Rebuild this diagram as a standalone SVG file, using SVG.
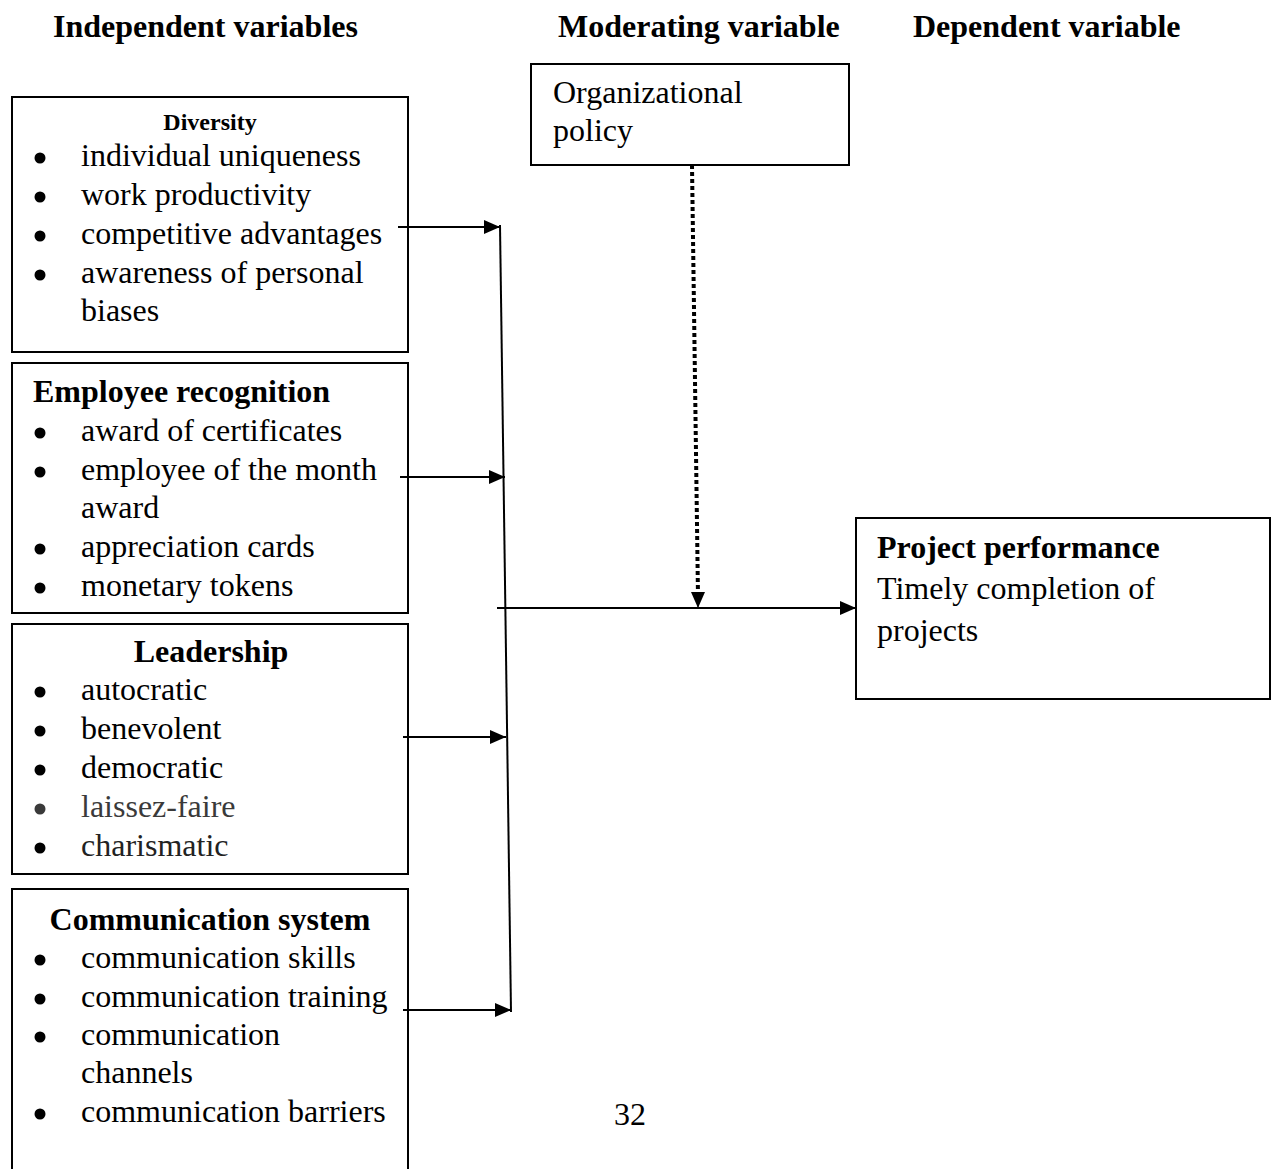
<svg xmlns="http://www.w3.org/2000/svg" width="1274" height="1169" viewBox="0 0 1274 1169">
<style>
text{font-family:"Liberation Serif","Times New Roman",serif;font-size:32px;fill:#000}
.b{font-weight:bold}
.t{font-weight:bold;font-size:24px}
.box{fill:#fff;stroke:#000;stroke-width:2}
.con{fill:none;stroke:#000;stroke-width:2}
.dot{fill:none;stroke:#000;stroke-width:4;stroke-dasharray:4 3}
.bul{fill:#000}
.g{fill:#3a3a3a}
</style>
<defs>
<marker id="ah" markerUnits="userSpaceOnUse" markerWidth="17" markerHeight="14" refX="16" refY="7" orient="auto">
<path d="M0,0 L16,7 L0,14 z" fill="#000"/>
</marker>
</defs>

<g id="headers">
<text class="b" x="53" y="37">Independent variables</text>
<text class="b" x="558" y="37">Moderating variable</text>
<text class="b" x="913" y="37">Dependent variable</text>
</g>

<g id="diversity">
<rect class="box" x="12" y="97" width="396" height="255"/>
<text class="t" x="210" y="130" text-anchor="middle">Diversity</text>
<circle class="bul" cx="40" cy="158" r="5.5"/><text x="81" y="166">individual uniqueness</text>
<circle class="bul" cx="40" cy="197" r="5.5"/><text x="81" y="205">work productivity</text>
<circle class="bul" cx="40" cy="236" r="5.5"/><text x="81" y="244">competitive advantages</text>
<circle class="bul" cx="40" cy="275" r="5.5"/><text x="81" y="283">awareness of personal</text>
<text x="81" y="321">biases</text>
</g>

<g id="employee-recognition">
<rect class="box" x="12" y="363" width="396" height="250"/>
<text class="b" x="33" y="402">Employee recognition</text>
<circle class="bul" cx="40" cy="433" r="5.5"/><text x="81" y="441">award of certificates</text>
<circle class="bul" cx="40" cy="472" r="5.5"/><text x="81" y="480">employee of the month</text>
<text x="81" y="518">award</text>
<circle class="bul" cx="40" cy="549" r="5.5"/><text x="81" y="557">appreciation cards</text>
<circle class="bul" cx="40" cy="588" r="5.5"/><text x="81" y="596">monetary tokens</text>
</g>

<g id="leadership">
<rect class="box" x="12" y="624" width="396" height="250"/>
<text class="b" x="211" y="662" text-anchor="middle">Leadership</text>
<circle class="bul" cx="40" cy="692" r="5.5"/><text x="81" y="700">autocratic</text>
<circle class="bul" cx="40" cy="731" r="5.5"/><text x="81" y="739">benevolent</text>
<circle class="bul" cx="40" cy="770" r="5.5"/><text x="81" y="778">democratic</text>
<circle class="bul g" cx="40" cy="809" r="5.5"/><text class="g" x="81" y="817">laissez-faire</text>
<circle class="bul" cx="40" cy="848" r="5.5"/><text x="81" y="856" style="fill:#222">charismatic</text>
</g>

<g id="communication-system">
<path class="box" d="M12,1175 V889 H408 V1175"/>
<text class="b" x="210" y="930" text-anchor="middle">Communication system</text>
<circle class="bul" cx="40" cy="960" r="5.5"/><text x="81" y="968">communication skills</text>
<circle class="bul" cx="40" cy="999" r="5.5"/><text x="81" y="1007">communication training</text>
<circle class="bul" cx="40" cy="1037" r="5.5"/><text x="81" y="1045">communication</text>
<text x="81" y="1083">channels</text>
<circle class="bul" cx="40" cy="1114" r="5.5"/><text x="81" y="1122">communication barriers</text>
</g>

<g id="organizational-policy">
<rect class="box" x="531" y="64" width="318" height="101"/>
<text x="553" y="103">Organizational</text>
<text x="553" y="141">policy</text>
</g>

<g id="project-performance">
<rect class="box" x="856" y="518" width="414" height="181"/>
<text class="b" x="877" y="558">Project performance</text>
<text x="877" y="599">Timely completion of</text>
<text x="877" y="641">projects</text>
</g>

<g id="connectors">
<line class="con" x1="398" y1="227" x2="500" y2="227" marker-end="url(#ah)"/>
<line class="con" x1="400" y1="477" x2="505" y2="477" marker-end="url(#ah)"/>
<line class="con" x1="403" y1="737" x2="506" y2="737" marker-end="url(#ah)"/>
<line class="con" x1="403" y1="1010" x2="511" y2="1010" marker-end="url(#ah)"/>
<line class="con" x1="500" y1="225" x2="511" y2="1012"/>
<line class="con" x1="497" y1="608" x2="856" y2="608" marker-end="url(#ah)"/>
<line class="dot" x1="692" y1="165" x2="698" y2="596"/>
<line class="con" x1="698" y1="594" x2="698" y2="608" marker-end="url(#ah)" style="stroke-width:1"/>
</g>

<g id="page-number">
<text x="614" y="1125">32</text>
</g>
</svg>
